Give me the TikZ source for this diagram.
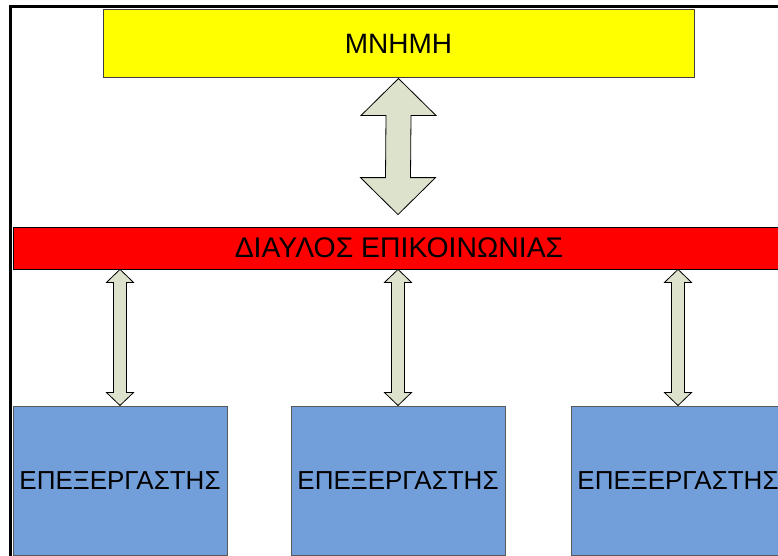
\documentclass[tikz,border=0pt]{standalone}
\usepackage{fontspec}
\setmainfont{Liberation Sans}
\usetikzlibrary{calc}

\definecolor{memyellow}{HTML}{FFFF00}
\definecolor{busred}{HTML}{FF0000}
\definecolor{cpublue}{HTML}{729FD9}
\definecolor{arrowgray}{HTML}{DDE2CC}

\tikzset{
    box/.style={draw=black!75, line width=1pt, inner sep=0pt, font=\fontsize{26}{30}\selectfont},
    membox/.style={box, fill=memyellow, minimum width=591pt, minimum height=68pt, font=\fontsize{28}{32}\selectfont},
    busbox/.style={box, draw=black, line width=0.8pt, fill=busred, minimum width=772pt, minimum height=42pt, font=\fontsize{28.4}{32}\selectfont},
    cpubox/.style={box, draw=black!65, fill=cpublue, minimum width=214pt, minimum height=149pt},
    fatarrow/.style={draw=black, line width=0.8pt, fill=arrowgray, line join=miter}
}

% double headed block arrow: top tip, bottom tip, head half width, shaft half width, head length
\newcommand{\blockarrow}[5]{%
    \draw[fatarrow] (#1) -- ($(#1)+(#3,#5)$) -- ($(#1)+(#4,#5)$) -- ($(#2)+(#4,-#5)$)
        -- ($(#2)+(#3,-#5)$) -- (#2) -- ($(#2)+(-#3,-#5)$) -- ($(#2)+(-#4,-#5)$)
        -- ($(#1)+(-#4,#5)$) -- ($(#1)+(-#3,#5)$) -- cycle;}

\begin{document}
\begin{tikzpicture}[x=1pt, y=-1pt]
    \useasboundingbox (0,0) rectangle (778,556);
    \clip (0,0) rectangle (778,556);
    \draw[line width=3pt] (10.5,580) -- (10.5,6.5) -- (820,6.5);

    \node[membox] (mem) at (398.5,44) {ΜΝΗΜΗ};
    \node[busbox] (bus) at (399,248) {ΔΙΑΥΛΟΣ ΕΠΙΚΟΙΝΩΝΙΑΣ};
    \foreach \i/\x in {1/120, 2/398, 3/678}
        \node[cpubox] (cpu\i) at (\x,480.5) {ΕΠΕΞΕΡΓΑΣΤΗΣ};

    \coordinate (memtip) at ($(bus.north)+(-1,-12)$);
    \blockarrow{mem.south}{memtip}{37.5}{12.5}{37}
    \foreach \i in {1,2,3}{
        \coordinate (bustip\i) at (bus.south -| cpu\i.north);
        \blockarrow{bustip\i}{cpu\i.north}{13.5}{6.5}{13}
    }
\end{tikzpicture}
\end{document}
